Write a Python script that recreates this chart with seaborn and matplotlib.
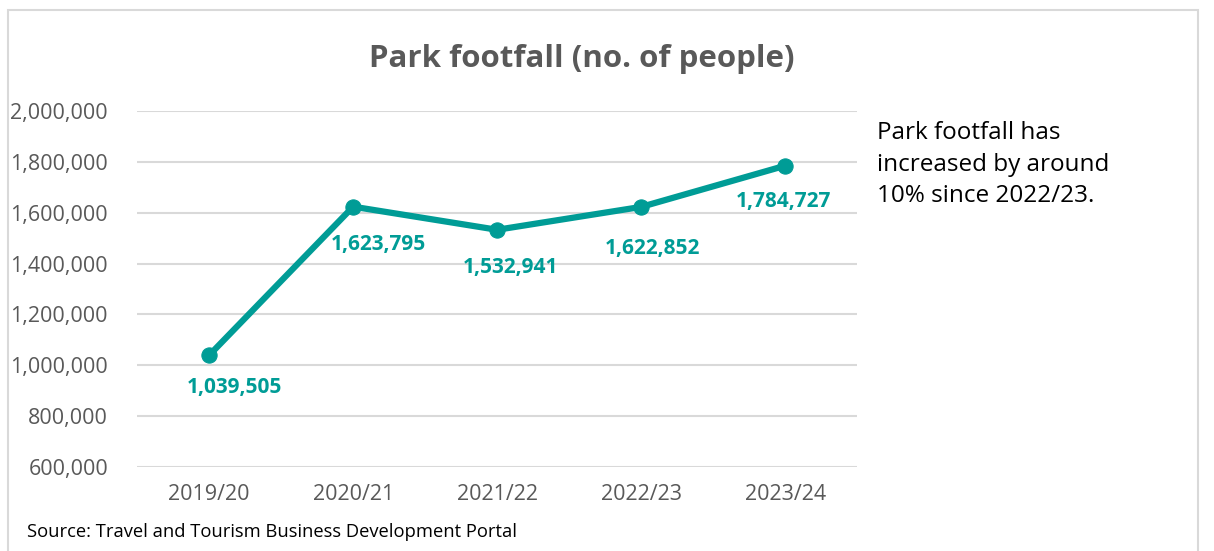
#!/usr/bin/env python3
import matplotlib
matplotlib.use("Agg")
import matplotlib.pyplot as plt
import matplotlib.ticker as mticker
from matplotlib.patches import Rectangle
import pandas as pd
import seaborn as sns

years = ["2019/20", "2020/21", "2021/22", "2022/23", "2023/24"]
footfall = [1039505, 1623795, 1532941, 1622852, 1784727]

TEAL = "#009C96"
GREY = "#595959"


def main():
    sns.set_style("white")
    plt.rcParams["font.family"] = ["Open Sans", "DejaVu Sans"]

    df = pd.DataFrame({"Year": years, "Footfall": footfall})

    fig = plt.figure(figsize=(12.14, 5.51), dpi=100)
    ax = fig.add_axes([0.113, 0.1525, 0.593, 0.646])

    sns.lineplot(data=df, x="Year", y="Footfall", ax=ax, color=TEAL,
                 linewidth=4.5, marker="o", markersize=11,
                 markeredgecolor=TEAL, sort=False, zorder=3)

    # label nudges (points), roughly as placed in the original
    nudges = [(18, -23), (18, -27), (10, -27), (8, -30), (-1, -26)]
    for i, v in enumerate(footfall):
        ax.annotate(f"{v:,}", xy=(i, v), xytext=nudges[i],
                    textcoords="offset points", ha="center", va="center",
                    color=TEAL, fontsize=15, fontweight="bold")

    ax.set_ylim(600000, 2000000)
    ax.set_xlim(-0.5, 4.5)
    ax.yaxis.set_major_locator(mticker.MultipleLocator(200000))
    ax.yaxis.set_major_formatter(mticker.FuncFormatter(lambda x, p: f"{x:,.0f}"))
    ax.grid(axis="y", color="#D9D9D9", linewidth=1.5)
    ax.set_axisbelow(True)
    for s in ax.spines.values():
        s.set_visible(False)
    ax.tick_params(axis="both", length=0, labelsize=15.5, labelcolor=GREY)
    ax.tick_params(axis="x", pad=12)
    ax.tick_params(axis="y", pad=21)
    ax.set_xlabel("")
    ax.set_ylabel("")

    fig.text(0.479, 0.893, "Park footfall (no. of people)", ha="center",
             va="center", fontsize=22.5, fontweight="bold", color=GREY)
    fig.text(0.722, 0.78, "Park footfall has\nincreased by around\n10% since 2022/23.",
             ha="left", va="top", fontsize=17.5, color="black", linespacing=1.42)
    fig.text(0.022, 0.035, "Source: Travel and Tourism Business Development Portal",
             ha="left", va="center", fontsize=13.2, color="black")

    fig.patches.append(Rectangle((0.0066, -0.05), 0.9805, 1.032,
                                 transform=fig.transFigure, fill=False,
                                 edgecolor="#D9D9D9", linewidth=1.5))

    fig.savefig("out.png", dpi=100, facecolor="white")


if __name__ == "__main__":
    main()
